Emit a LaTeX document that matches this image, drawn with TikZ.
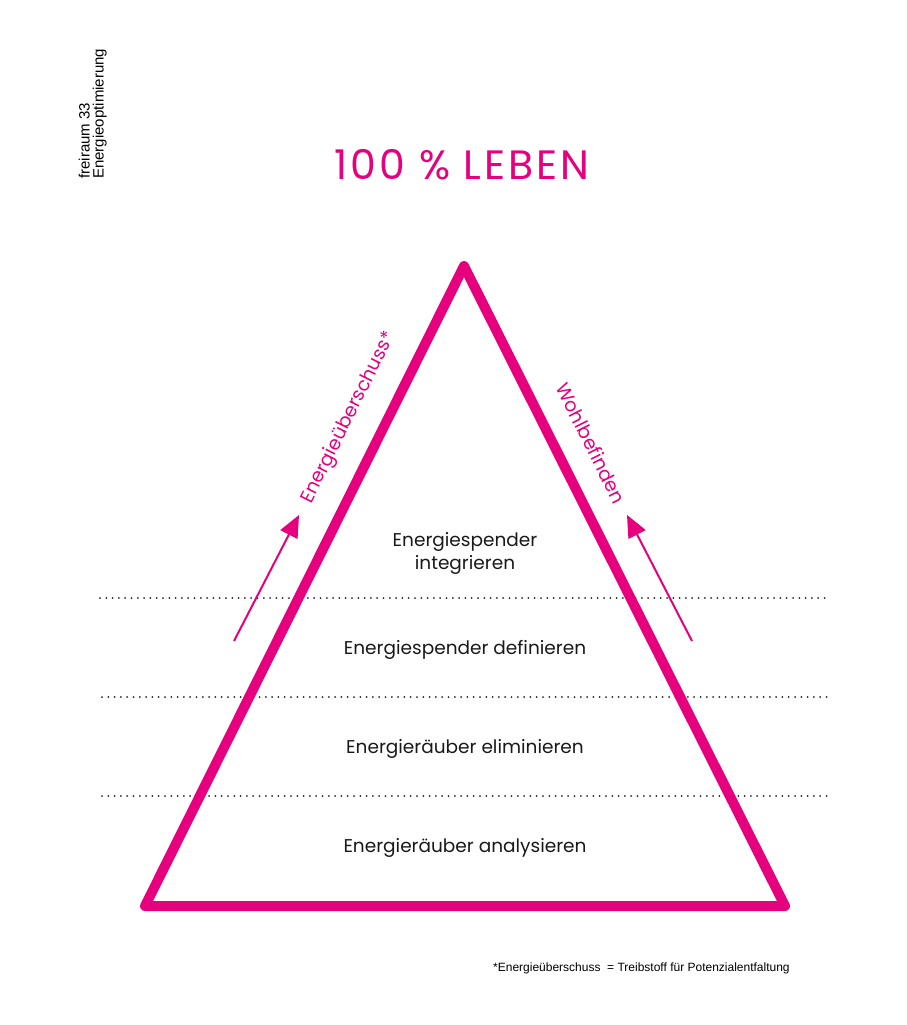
\documentclass[tikz,border=0pt]{standalone}
\usepackage{fontspec}
\setmainfont{Poppins}
\newfontfamily\smallfont{Liberation Sans}
\newfontfamily\titlefont[LetterSpace=7]{Poppins}
\usetikzlibrary{arrows.meta}
\definecolor{mag}{HTML}{E6007E}
\tikzset{
  edge/.style={draw=mag, line width=10pt, line join=round, line cap=round},
  sep/.style={draw=black!85, line width=2pt, line cap=round, dash pattern=on 0pt off 6.3pt},
  label/.style={font=\fontsize{18.5}{24}\selectfont, text=black!90, align=center, inner sep=0pt},
  side/.style={font=\fontsize{19}{24}\selectfont, text=mag, inner sep=0pt},
  flow/.style={draw=mag, line width=2pt, -{Triangle[length=22pt, width=19pt]}},
  meta/.style={font=\smallfont\fontsize{15}{18}\selectfont, inner sep=0pt, rotate=90, anchor=south west}
}
\begin{document}
\begin{tikzpicture}[x=1pt, y=-1pt]
\useasboundingbox (0,0) rectangle (907,1025);
% dotted separators
\coordinate (s1l) at (100,598); \coordinate (s1r) at (828,598);
\coordinate (s2l) at (102,697); \coordinate (s2r) at (828,697);
\coordinate (s3l) at (102,796); \coordinate (s3r) at (828,796);
\draw[sep] (s1l) -- (s1r);
\draw[sep] (s2l) -- (s2r);
\draw[sep] (s3l) -- (s3r);
% triangle
\coordinate (top) at (464,266);
\coordinate (bl) at (145,906);
\coordinate (br) at (785,906);
\draw[edge] (top) -- (br) -- (bl) -- cycle;
% title
\node[font=\titlefont\fontsize{41}{48}\selectfont, text=mag, inner sep=0pt] (title) at (462,165) {100 \% LEBEN};
% level labels
\node[label] (l4) at (465,553) {Energiespender\\[-1pt]integrieren};
\node[label] (l3) at (465,650) {Energiespender definieren};
\node[label] (l2) at (465,749) {Energieräuber eliminieren};
\node[label] (l1) at (465,848) {Energieräuber analysieren};
% side arrows
\coordinate (a1s) at (234,641); \coordinate (a1e) at (299,515);
\coordinate (a2s) at (692,641); \coordinate (a2e) at (627,515);
\draw[flow] (a1s) -- (a1e);
\draw[flow] (a2s) -- (a2e);
\node[side, rotate=63.5] (ls) at (349,418) {Energieüberschuss*};
\node[side, rotate=-63.5] (rs) at (591,443) {Wohlbefinden};
% meta
\node[meta] (m1) at (90,179) {freiraum 33};
\node[meta] (m2) at (107,179) {Energieoptimierung};
% footnote
\node[font=\smallfont\fontsize{12}{14}\selectfont, inner sep=0pt, anchor=west] (fn) at (493,968) {*Energieüberschuss \ = Treibstoff für Potenzialentfaltung};
\end{tikzpicture}
\end{document}
